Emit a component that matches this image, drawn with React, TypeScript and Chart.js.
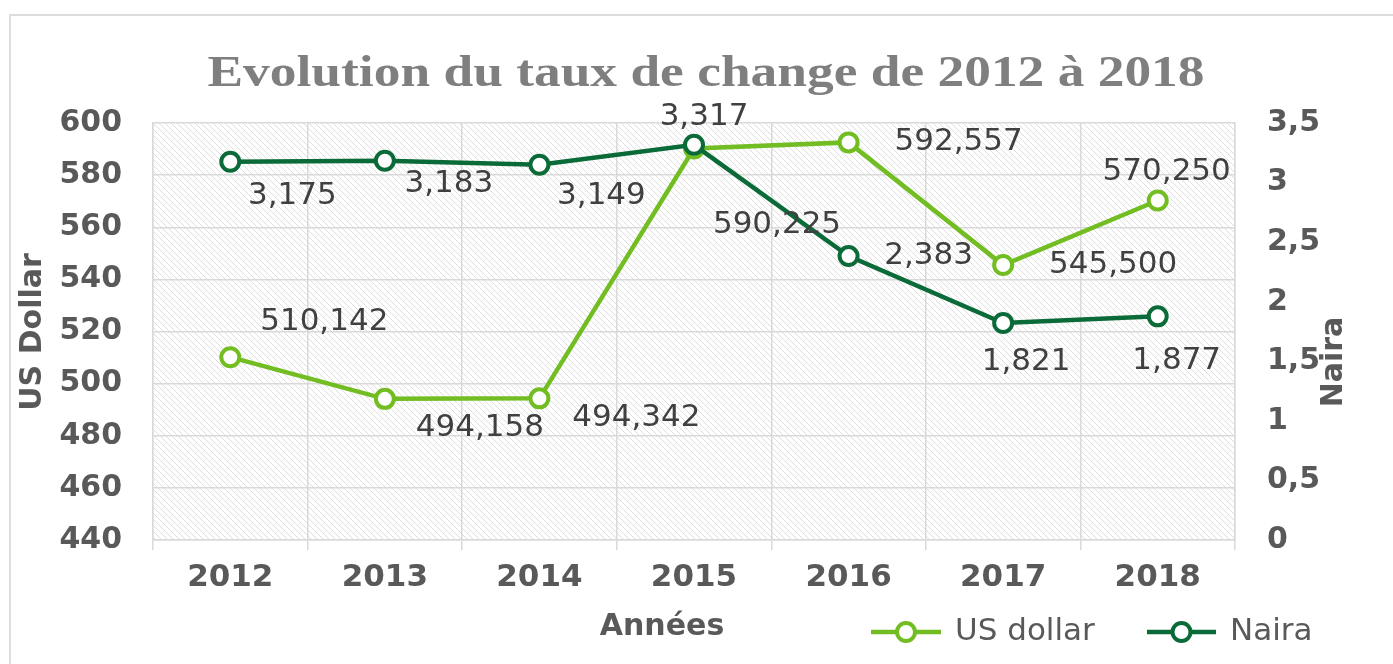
import React, { useEffect, useRef } from "react";
import { Chart, registerables } from "chart.js";

Chart.register(...registerables);

// ---- data ----
const years = ["2012", "2013", "2014", "2015", "2016", "2017", "2018"];
const usDollar = [510.142, 494.158, 494.342, 590.225, 592.557, 545.5, 570.25];
const naira = [3.175, 3.183, 3.149, 3.317, 2.383, 1.821, 1.877];

const titleText = "Evolution du taux de change de 2012 à 2018";
const leftAxisTitle = "US Dollar";
const rightAxisTitle = "Naira";
const xAxisTitle = "Années";
const usLabel = "US dollar";
const nairaLabel = "Naira";

// ---- label placement (style, pixel offsets from each point) ----
const usLabelOffsets = [
  [94, -35],
  [95, 29],
  [97, 20],
  [83, 76],
  [110, 0],
  [110, 0],
  [9, -29],
];
const nairaLabelOffsets = [
  [62, 34],
  [64, 23],
  [62, 31],
  [10, -28],
  [80, 0],
  [23, 39],
  [19, 45],
];

const LIGHT = "#72bd22";
const DARK = "#0b6b38";
const GRID = "#d9d9d9";
const TICK = "#595959";
const LABEL = "#404040";

const fmt = (v: number, digits: number) => v.toFixed(digits).replace(".", ",");

function makePattern(ctx: CanvasRenderingContext2D) {
  const size = 6;
  const pc = document.createElement("canvas");
  pc.width = size;
  pc.height = size;
  const p = pc.getContext("2d")!;
  p.fillStyle = "#ffffff";
  p.fillRect(0, 0, size, size);
  p.strokeStyle = "#dedede";
  p.lineWidth = 1;
  p.beginPath();
  p.moveTo(0, 0);
  p.lineTo(size, size);
  p.moveTo(-1, size - 1);
  p.lineTo(1, size + 1);
  p.moveTo(size - 1, -1);
  p.lineTo(size + 1, 1);
  p.stroke();
  return ctx.createPattern(pc, "repeat");
}

const decorPlugin = {
  id: "decor",
  beforeDraw(chart: any) {
    const { ctx, chartArea } = chart;
    ctx.save();
    ctx.fillStyle = "#ffffff";
    ctx.fillRect(0, 0, chart.width, chart.height);
    // outer frame
    ctx.strokeStyle = "#dcdcdc";
    ctx.lineWidth = 2;
    ctx.strokeRect(10, 15, chart.width + 20, chart.height + 20);
    // hatched plot background
    const pat = makePattern(ctx);
    if (pat) {
      ctx.fillStyle = pat;
      ctx.fillRect(chartArea.left, chartArea.top, chartArea.right - chartArea.left, chartArea.bottom - chartArea.top);
    }
    ctx.restore();
  },
  afterDatasetsDraw(chart: any) {
    const { ctx } = chart;
    ctx.save();
    ctx.font = "31px 'DejaVu Sans'";
    ctx.fillStyle = LABEL;
    ctx.textAlign = "center";
    ctx.textBaseline = "middle";
    chart.data.datasets.forEach((ds: any, di: number) => {
      const meta = chart.getDatasetMeta(di);
      const offsets = ds.yAxisID === "y" ? usLabelOffsets : nairaLabelOffsets;
      meta.data.forEach((pt: any, i: number) => {
        const v = ds.data[i] as number;
        const [dx, dy] = offsets[i];
        ctx.fillText(fmt(v, 3), pt.x + dx, pt.y + dy);
      });
    });
    ctx.restore();
  },
  afterDraw(chart: any) {
    const { ctx } = chart;
    ctx.save();
    // title (wide old-style serif look: horizontally widened Liberation Serif)
    ctx.font = "bold 45px 'Liberation Serif'";
    ctx.fillStyle = "#7f7f7f";
    ctx.textAlign = "center";
    ctx.textBaseline = "alphabetic";
    const w = ctx.measureText(titleText).width;
    const sx = 997 / w;
    ctx.save();
    ctx.translate(706, 86);
    ctx.scale(sx, 1);
    ctx.fillText(titleText, 0, 0);
    ctx.restore();

    // axis titles
    ctx.font = "bold 30px 'DejaVu Sans'";
    ctx.fillStyle = TICK;
    ctx.textBaseline = "middle";
    ctx.save();
    ctx.translate(33, 332);
    ctx.rotate(-Math.PI / 2);
    ctx.fillText(leftAxisTitle, 0, 0);
    ctx.restore();
    ctx.save();
    ctx.translate(1334, 362);
    ctx.rotate(-Math.PI / 2);
    ctx.fillText(rightAxisTitle, 0, 0);
    ctx.restore();
    ctx.fillText(xAxisTitle, 662, 627);

    // legend
    const drawKey = (x0: number, x1: number, color: string, text: string) => {
      const y = 632;
      ctx.strokeStyle = color;
      ctx.lineWidth = 4.5;
      ctx.beginPath();
      ctx.moveTo(x0, y);
      ctx.lineTo(x1, y);
      ctx.stroke();
      ctx.beginPath();
      ctx.arc((x0 + x1) / 2, y, 9, 0, Math.PI * 2);
      ctx.fillStyle = "#ffffff";
      ctx.fill();
      ctx.lineWidth = 4;
      ctx.stroke();
      ctx.font = "31px 'DejaVu Sans'";
      ctx.fillStyle = TICK;
      ctx.textAlign = "left";
      ctx.fillText(text, x1 + 14, y);
    };
    drawKey(871, 941, LIGHT, usLabel);
    drawKey(1147, 1216, DARK, nairaLabel);
    ctx.restore();
  },
};

export default function App() {
  const ref = useRef<HTMLCanvasElement>(null);

  useEffect(() => {
    document.body.style.margin = "0";
    const canvas = ref.current!;
    const chart = new Chart(canvas, {
      type: "line",
      data: {
        labels: years,
        datasets: [
          {
            label: nairaLabel,
            data: naira,
            yAxisID: "y1",
            borderColor: DARK,
            backgroundColor: DARK,
            borderWidth: 4.5,
            pointRadius: 9,
            pointBorderWidth: 4,
            pointBackgroundColor: "#ffffff",
            pointBorderColor: DARK,
            tension: 0,
          },
          {
            label: usLabel,
            data: usDollar,
            yAxisID: "y",
            borderColor: LIGHT,
            backgroundColor: LIGHT,
            borderWidth: 4.5,
            pointRadius: 9,
            pointBorderWidth: 4,
            pointBackgroundColor: "#ffffff",
            pointBorderColor: LIGHT,
            tension: 0,
          },
        ],
      },
      options: {
        responsive: false,
        animation: false,
        devicePixelRatio: 1,
        layout: { padding: { top: 123, left: 0, right: 0, bottom: 0 } },
        plugins: {
          legend: { display: false },
          title: { display: false },
          tooltip: { enabled: false },
        },
        scales: {
          x: {
            type: "category",
            offset: true,
            grid: { color: GRID, lineWidth: 1.5, tickLength: 10, offset: true },
            border: { color: GRID, width: 1.5 },
            ticks: {
              font: { family: "DejaVu Sans", size: 31, weight: "bold" },
              color: TICK,
              padding: 9,
              maxRotation: 0,
              autoSkip: false,
            },
            afterFit: (s: any) => {
              s.height = 124;
              s.paddingLeft = 0;
              s.paddingRight = 0;
            },
          },
          y: {
            position: "left",
            min: 440,
            max: 600,
            ticks: {
              stepSize: 20,
              padding: 31,
              font: { family: "DejaVu Sans", size: 30, weight: "bold" },
              color: TICK,
            },
            grid: { color: GRID, lineWidth: 1.5, drawTicks: false },
            border: { color: GRID, width: 1.5 },
            afterFit: (s: any) => {
              s.width = 153;
              s.paddingTop = 0;
              s.paddingBottom = 0;
            },
          },
          y1: {
            position: "right",
            min: 0,
            max: 3.5,
            ticks: {
              stepSize: 0.5,
              padding: 32,
              font: { family: "DejaVu Sans", size: 30, weight: "bold" },
              color: TICK,
              callback: (v: any) => String(v).replace(".", ","),
            },
            grid: { drawOnChartArea: false, drawTicks: false },
            border: { color: GRID, width: 1.5 },
            afterFit: (s: any) => {
              s.width = 158;
              s.paddingTop = 0;
              s.paddingBottom = 0;
            },
          },
        },
      },
      plugins: [decorPlugin],
    } as any);
    return () => chart.destroy();
  }, []);

  return (
    <div style={{ width: 1393, height: 664 }}>
      <canvas ref={ref} width={1393} height={664} />
    </div>
  );
}
